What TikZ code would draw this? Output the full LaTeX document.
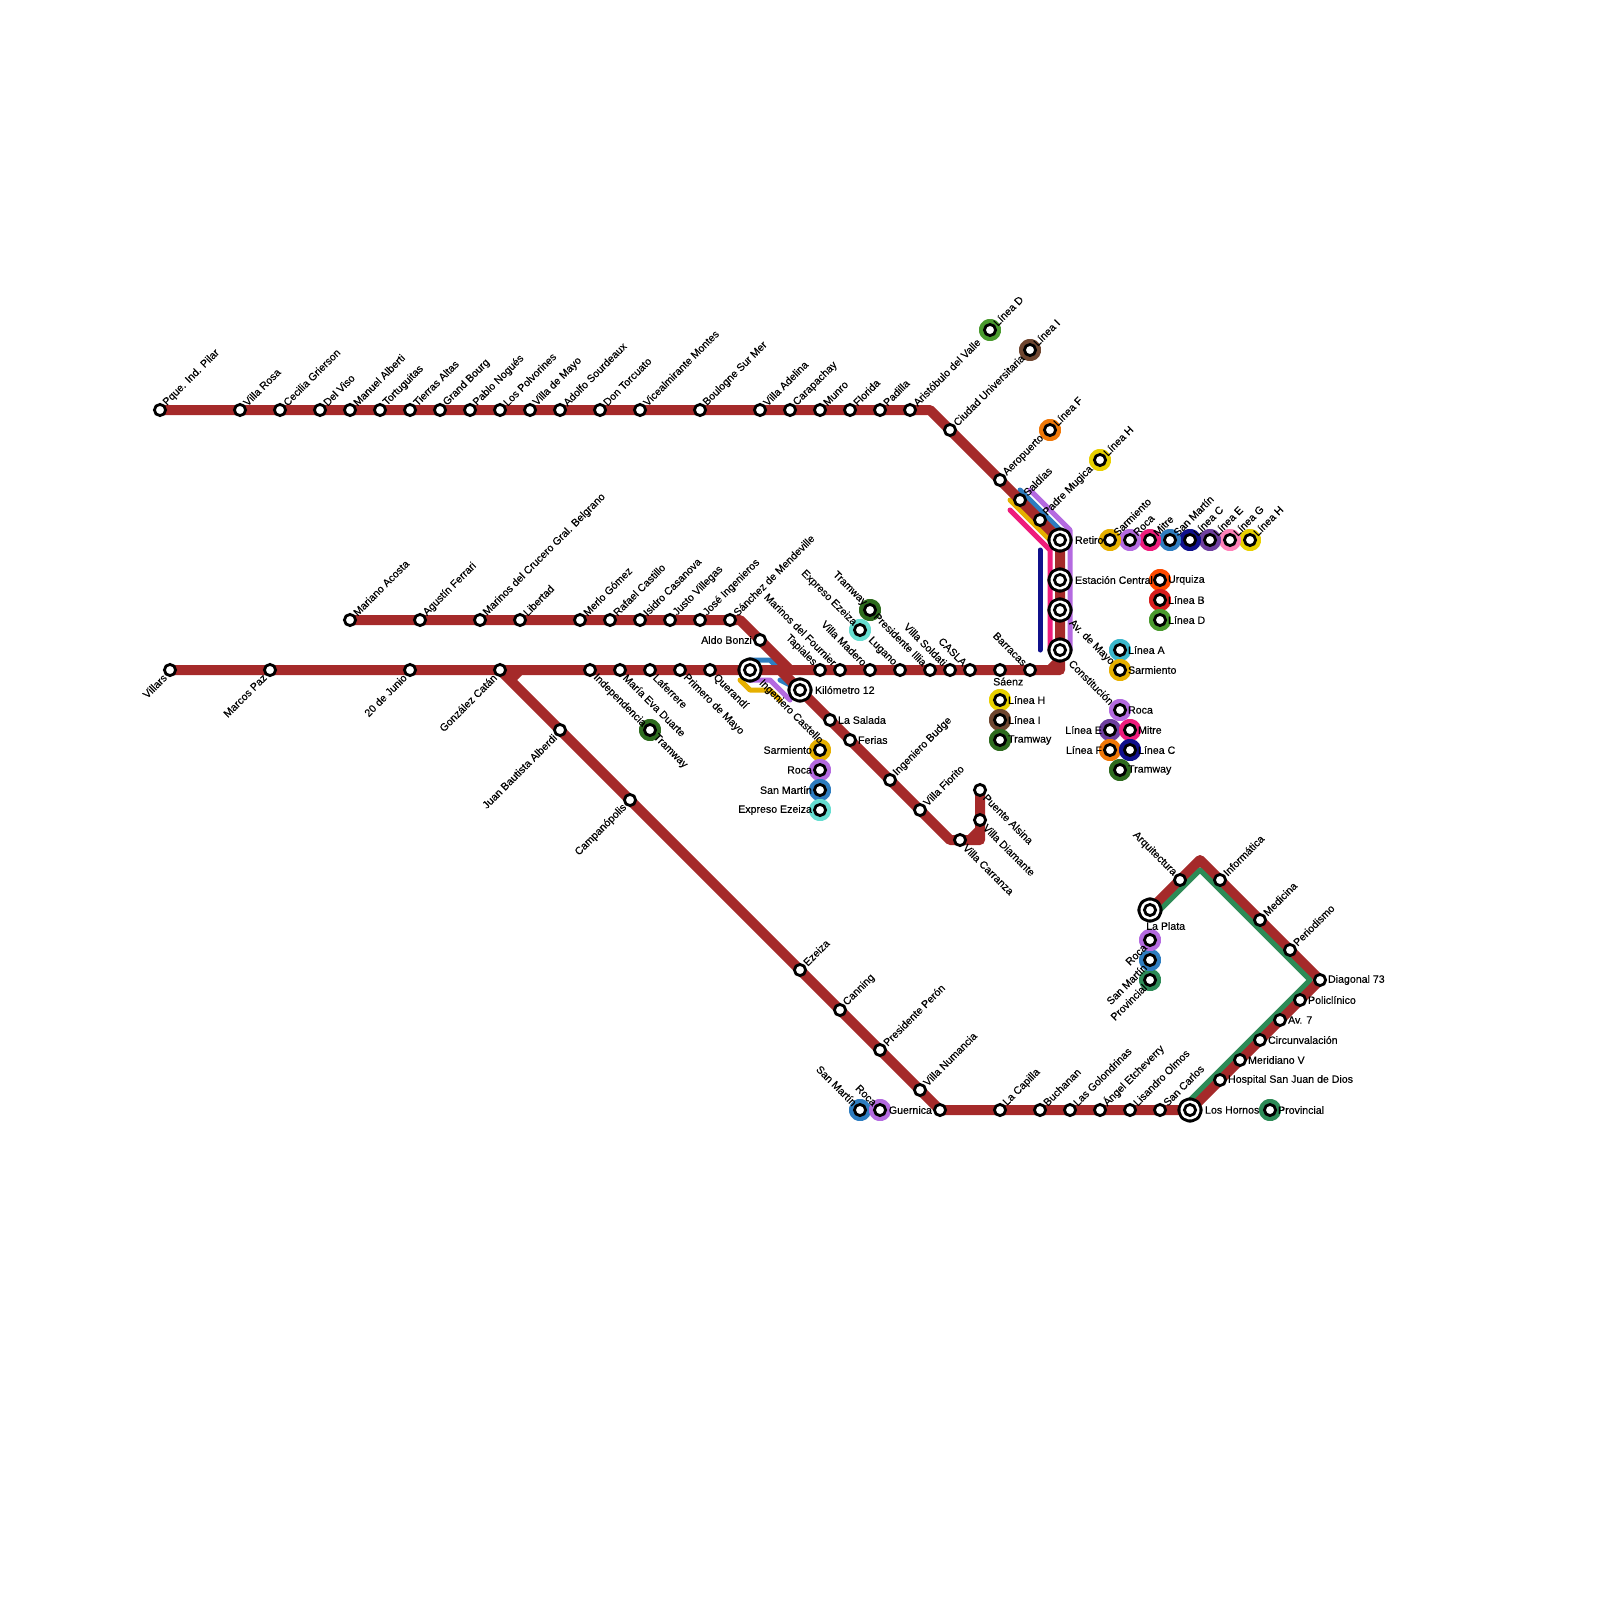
\documentclass[tikz,border=0pt]{standalone}
\usepackage{fontspec}
\setmainfont{Liberation Sans}[FakeBold=0.25]
\usetikzlibrary{backgrounds}
\definecolor{trunk}{HTML}{A52A2A}
\definecolor{provincial}{HTML}{2E8B57}
\definecolor{sarmiento}{HTML}{E6B000}
\definecolor{roca}{HTML}{B46AE0}
\definecolor{mitre}{HTML}{EE1C7C}
\definecolor{sanmartin}{HTML}{2E7DC0}
\definecolor{lineaa}{HTML}{3CB8CC}
\definecolor{lineab}{HTML}{D81E1E}
\definecolor{lineac}{HTML}{10108C}
\definecolor{linead}{HTML}{4A9A2E}
\definecolor{lineae}{HTML}{6F3FA0}
\definecolor{lineaf}{HTML}{F07808}
\definecolor{lineag}{HTML}{FF80B8}
\definecolor{lineah}{HTML}{E8D000}
\definecolor{lineai}{HTML}{6F4630}
\definecolor{urquiza}{HTML}{FF4A00}
\definecolor{tramway}{HTML}{2E6B1E}
\definecolor{ezeiza}{HTML}{66DDD0}

\begin{document}
\begin{tikzpicture}[
    x=1pt, y=-1pt, label distance=0.9pt,
    stn/.style={circle, draw=black, line width=2.8pt, fill=white, minimum size=11.2pt, inner sep=0pt},
    big/.style={stn, preaction={draw=black, line join=round, line width=14.2pt}, preaction={draw=white, line join=round, line width=8.2pt}},
    halo/.style={stn, preaction={draw=#1, line join=round, line width=11.6pt}},
    lab/.style={font=\fontsize{10.6}{12}\selectfont, inner sep=0pt},
    lne/.style={lab, rotate=45, anchor=west},
    lsw/.style={lab, rotate=45, anchor=east},
    lnw/.style={lab, rotate=-45, anchor=east},
    lse/.style={lab, rotate=-45, anchor=west},
    lea/.style={lab, anchor=west},
    lwe/.style={lab, anchor=east},
    lso/.style={lab, anchor=north west},
    leabig/.style={lea, xshift=7pt},
    lsebig/.style={lse, xshift=8pt},
    trunkline/.style={draw=trunk, line width=10pt, line join=round},
    branch/.style={draw=#1, line width=5pt, line join=round, line cap=round}
]
\useasboundingbox (0,0) rectangle (1600,1600);

\node[halo=linead, label={[lne,name=dnt]45:Línea D}] (dn) at (990,330) {};
\node[halo=lineai, label={[lne,name=int]45:Línea I}] (in) at (1030,350) {};
\node[halo=lineaf, label={[lne,name=fnt]45:Línea F}] (fn) at (1050,430) {};
\node[halo=lineah, label={[lne,name=hnt]45:Línea H}] (hn) at (1100,460) {};
\node[halo=lineah, label={[lne,name=rht]45:Línea H}] (rh) at (1250,540) {};
\node[halo=lineag, label={[lne,name=rgt]45:Línea G}] (rg) at (1230,540) {};
\node[halo=lineae, label={[lne,name=ret]45:Línea E}] (re) at (1210,540) {};
\node[halo=lineac, label={[lne,name=rct]45:Línea C}] (rc) at (1190,540) {};
\node[halo=sanmartin, label={[lne,name=rsanmt]45:San Martín}] (rsanm) at (1170,540) {};
\node[halo=mitre, label={[lne,name=rmitret]45:Mitre}] (rmitre) at (1150,540) {};
\node[halo=roca, label={[lne,name=rrocat]45:Roca}] (rroca) at (1130,540) {};
\node[halo=sarmiento, label={[lne,name=rsarmt]45:Sarmiento}] (rsarm) at (1110,540) {};
\node[halo=urquiza, label={[lea,name=curqt]0:Urquiza}] (curq) at (1160,580) {};
\node[halo=lineab, label={[lea,name=cbt]0:Línea B}] (cb) at (1160,600) {};
\node[halo=linead, label={[lea,name=cdt]0:Línea D}] (cd) at (1160,620) {};
\node[halo=lineaa, label={[lea,name=aat]0:Línea A}] (aa) at (1120,650) {};
\node[halo=sarmiento, label={[lea,name=asarmt]0:Sarmiento}] (asarm) at (1120,670) {};
\node[halo=roca, label={[lea,name=crocat]0:Roca}] (croca) at (1120,710) {};
\node[halo=lineae, label={[lwe,name=cet]180:Línea E}] (ce) at (1110,730) {};
\node[halo=mitre, label={[lea,name=cmitret]0:Mitre}] (cmitre) at (1130,730) {};
\node[halo=lineaf, label={[lwe,name=cft]180:Línea F}] (cf) at (1110,750) {};
\node[halo=lineac, label={[lea,name=cct]0:Línea C}] (cc) at (1130,750) {};
\node[halo=tramway, label={[lea,name=ctramt]0:Tramway}] (ctram) at (1120,770) {};
\node[halo=tramway, label={[lse,name=itramt]-45:Tramway}] (itram) at (650,730) {};
\node[halo=tramway, label={[lnw,name=ltramt]135:Tramway}] (ltram) at (870,610) {};
\node[halo=ezeiza, label={[lnw,name=lezet]135:Expreso Ezeiza}] (leze) at (860,630) {};
\node[halo=lineah, label={[lea,name=shat]0:Línea H}] (sha) at (1000,700) {};
\node[halo=lineai, label={[lea,name=sit]0:Línea I}] (si) at (1000,720) {};
\node[halo=tramway, label={[lea,name=stramt]0:Tramway}] (stram) at (1000,740) {};
\node[halo=sarmiento, label={[lwe,name=ksarmt]180:Sarmiento}] (ksarm) at (820,750) {};
\node[halo=roca, label={[lwe,name=krocat]180:Roca}] (kroca) at (820,770) {};
\node[halo=sanmartin, label={[lwe,name=ksanmt]180:San Martín}] (ksanm) at (820,790) {};
\node[halo=ezeiza, label={[lwe,name=kezet]180:Expreso Ezeiza}] (keze) at (820,810) {};
\node[halo=sanmartin, label={[lnw,name=gsanmt]135:San Martín}] (gsanm) at (860,1110) {};
\node[halo=roca, label={[lnw,name=grocat]135:Roca}] (groca) at (880,1110) {};
\node[halo=provincial, label={[lea,name=hprovt]0:Provincial}] (hprov) at (1270,1110) {};
\node[halo=provincial, label={[lsw,name=pprovt]-135:Provincial}] (pprov) at (1150,980) {};
\node[halo=sanmartin, label={[lsw,name=psanmt]-135:San Martín}] (psanm) at (1150,960) {};
\node[halo=roca, label={[lsw,name=procat]-135:Roca}] (proca) at (1150,940) {};

\node[stn, label={[lne,name=pilart]45:Pque. Ind. Pilar}] (pilar) at (160,410) {};
\node[stn, label={[lne,name=villarosat]45:Villa Rosa}] (villarosa) at (240,410) {};
\node[stn, label={[lne,name=griersont]45:Cecilia Grierson}] (grierson) at (280,410) {};
\node[stn, label={[lne,name=delvisot]45:Del Viso}] (delviso) at (320,410) {};
\node[stn, label={[lne,name=albertit]45:Manuel Alberti}] (alberti) at (350,410) {};
\node[stn, label={[lne,name=tortuguitast]45:Tortuguitas}] (tortuguitas) at (380,410) {};
\node[stn, label={[lne,name=tierrast]45:Tierras Altas}] (tierras) at (410,410) {};
\node[stn, label={[lne,name=bourgt]45:Grand Bourg}] (bourg) at (440,410) {};
\node[stn, label={[lne,name=noguest]45:Pablo Nogués}] (nogues) at (470,410) {};
\node[stn, label={[lne,name=polvorinest]45:Los Polvorines}] (polvorines) at (500,410) {};
\node[stn, label={[lne,name=villamayot]45:Villa de Mayo}] (villamayo) at (530,410) {};
\node[stn, label={[lne,name=sourdeauxt]45:Adolfo Sourdeaux}] (sourdeaux) at (560,410) {};
\node[stn, label={[lne,name=torcuatot]45:Don Torcuato}] (torcuato) at (600,410) {};
\node[stn, label={[lne,name=montest]45:Vicealmirante Montes}] (montes) at (640,410) {};
\node[stn, label={[lne,name=boulognet]45:Boulogne Sur Mer}] (boulogne) at (700,410) {};
\node[stn, label={[lne,name=adelinat]45:Villa Adelina}] (adelina) at (760,410) {};
\node[stn, label={[lne,name=carapachayt]45:Carapachay}] (carapachay) at (790,410) {};
\node[stn, label={[lne,name=munrot]45:Munro}] (munro) at (820,410) {};
\node[stn, label={[lne,name=floridat]45:Florida}] (florida) at (850,410) {};
\node[stn, label={[lne,name=padillat]45:Padilla}] (padilla) at (880,410) {};
\node[stn, label={[lne,name=aristobulot]45:Aristóbulo del Valle}] (aristobulo) at (910,410) {};
\node[stn, label={[lne,name=ciudadt]45:Ciudad Universitaria}] (ciudad) at (950,430) {};
\node[stn, label={[lne,name=aeropuertot]45:Aeropuerto}] (aeropuerto) at (1000,480) {};
\node[stn, label={[lne,name=saldiast]45:Saldías}] (saldias) at (1020,500) {};
\node[stn, label={[lne,name=mugicat]45:Padre Mugica}] (mugica) at (1040,520) {};

\node[big, label={[leabig,name=retirot]0:Retiro}] (retiro) at (1060,540) {};
\node[big, label={[leabig,name=centralt]0:Estación Central}] (central) at (1060,580) {};
\node[big, label={[lsebig,name=avmayot]-45:Av. de Mayo}] (avmayo) at (1060,610) {};
\node[big, label={[lsebig,name=constituciont]-45:Constitución}] (constitucion) at (1060,650) {};

\node[stn, label={[lne,name=acostat]45:Mariano Acosta}] (acosta) at (350,620) {};
\node[stn, label={[lne,name=ferrarit]45:Agustín Ferrari}] (ferrari) at (420,620) {};
\node[stn, label={[lne,name=belgranot]45:Marinos del Crucero Gral. Belgrano}] (belgrano) at (480,620) {};
\node[stn, label={[lne,name=libertadt]45:Libertad}] (libertad) at (520,620) {};
\node[stn, label={[lne,name=merlot]45:Merlo Gómez}] (merlo) at (580,620) {};
\node[stn, label={[lne,name=castillot]45:Rafael Castillo}] (castillo) at (610,620) {};
\node[stn, label={[lne,name=casanovat]45:Isidro Casanova}] (casanova) at (640,620) {};
\node[stn, label={[lne,name=villegast]45:Justo Villegas}] (villegas) at (670,620) {};
\node[stn, label={[lne,name=ingenierost]45:José Ingenieros}] (ingenieros) at (700,620) {};
\node[stn, label={[lne,name=sancheztt]45:Sánchez de Mendeville}] (sanchez) at (730,620) {};
\node[stn, label={[lwe,name=bonzit]180:Aldo Bonzi}] (bonzi) at (760,640) {};

\node[stn, label={[lsw,name=villarst]-135:Villars}] (villars) at (170,670) {};
\node[stn, label={[lsw,name=marcospazt]-135:Marcos Paz}] (marcospaz) at (270,670) {};
\node[stn, label={[lsw,name=veintet]-135:20 de Junio}] (veinte) at (410,670) {};
\node[stn, label={[lsw,name=catant]-135:González Catán}] (catan) at (500,670) {};
\node[stn, label={[lse,name=independenciat]-45:Independencia}] (independencia) at (590,670) {};
\node[stn, label={[lse,name=duartet]-45:María Eva Duarte}] (duarte) at (620,670) {};
\node[stn, label={[lse,name=laferreret]-45:Laferrere}] (laferrere) at (650,670) {};
\node[stn, label={[lse,name=primerot]-45:Primero de Mayo}] (primero) at (680,670) {};
\node[stn, label={[lse,name=querandit]-45:Querandí}] (querandi) at (710,670) {};
\node[stn, label={[lnw,name=tapialest]135:Tapiales}] (tapiales) at (820,670) {};
\node[stn, label={[lnw,name=fourniert]135:Marinos del Fournier}] (fournier) at (840,670) {};
\node[stn, label={[lnw,name=maderot]135:Villa Madero}] (madero) at (870,670) {};
\node[stn, label={[lnw,name=luganot]135:Lugano}] (lugano) at (900,670) {};
\node[stn, label={[lnw,name=illiat]135:Presidente Illia}] (illia) at (930,670) {};
\node[stn, label={[lnw,name=soldatit]135:Villa Soldati}] (soldati) at (950,670) {};
\node[stn, label={[lnw,name=caslat]135:CASLA}] (casla) at (970,670) {};
\node[stn, label={[lso,name=saenzt,xshift=-7pt,yshift=0.5pt]-90:Sáenz}] (saenz) at (1000,670) {};
\node[stn, label={[lnw,name=barracast]135:Barracas}] (barracas) at (1030,670) {};

\node[big, label={[leabig,name=kmdocet]0:Kilómetro 12}] (kmdoce) at (800,690) {};
\node[big, label={[lsebig,name=castellot]-45:Ingeniero Castello}] (castello) at (750,670) {};
\node[stn, label={[lea,name=saladat]0:La Salada}] (salada) at (830,720) {};
\node[stn, label={[lea,name=feriast]0:Ferias}] (ferias) at (850,740) {};
\node[stn, label={[lne,name=budget]45:Ingeniero Budge}] (budge) at (890,780) {};
\node[stn, label={[lne,name=fioritot]45:Villa Fiorito}] (fiorito) at (920,810) {};
\node[stn, label={[lse,name=carranzat]-45:Villa Carranza}] (carranza) at (960,840) {};
\node[stn, label={[lse,name=diamantet]-45:Villa Diamante}] (diamante) at (980,820) {};
\node[stn, label={[lse,name=alsinat]-45:Puente Alsina}] (alsina) at (980,790) {};

\node[stn, label={[lsw,name=alberdit]-135:Juan Bautista Alberdi}] (alberdi) at (560,730) {};
\node[stn, label={[lsw,name=campanopolist]-135:Campanópolis}] (campanopolis) at (630,800) {};
\node[stn, label={[lne,name=ezeizat]45:Ezeiza}] (ezeizast) at (800,970) {};
\node[stn, label={[lne,name=canningt]45:Canning}] (canning) at (840,1010) {};
\node[stn, label={[lne,name=peront]45:Presidente Perón}] (peron) at (880,1050) {};
\node[stn, label={[lne,name=numanciat]45:Villa Numancia}] (numancia) at (920,1090) {};
\node[stn, label={[lwe,name=guernicat]180:Guernica}] (guernica) at (940,1110) {};
\node[stn, label={[lne,name=capillat]45:La Capilla}] (capilla) at (1000,1110) {};
\node[stn, label={[lne,name=buchanant]45:Buchanan}] (buchanan) at (1040,1110) {};
\node[stn, label={[lne,name=golondrinast]45:Las Golondrinas}] (golondrinas) at (1070,1110) {};
\node[stn, label={[lne,name=etcheverryt]45:Ángel Etcheverry}] (etcheverry) at (1100,1110) {};
\node[stn, label={[lne,name=olmost]45:Lisandro Olmos}] (olmos) at (1130,1110) {};
\node[stn, label={[lne,name=carlost]45:San Carlos}] (carlos) at (1160,1110) {};
\node[big, label={[leabig,name=hornost]0:Los Hornos}] (hornos) at (1190,1110) {};

\node[stn, label={[lea,name=hospitalt]0:Hospital San Juan de Dios}] (hospital) at (1220,1080) {};
\node[stn, label={[lea,name=meridianot]0:Meridiano V}] (meridiano) at (1240,1060) {};
\node[stn, label={[lea,name=circunvt]0:Circunvalación}] (circunv) at (1260,1040) {};
\node[stn, label={[lea,name=avsietet]0:Av. 7}] (avsiete) at (1280,1020) {};
\node[stn, label={[lea,name=policlinicot]0:Policlínico}] (policlinico) at (1300,1000) {};
\node[stn, label={[lea,name=diagonalt]0:Diagonal 73}] (diagonal) at (1320,980) {};
\node[stn, label={[lne,name=periodismot]45:Periodismo}] (periodismo) at (1290,950) {};
\node[stn, label={[lne,name=medicinat]45:Medicina}] (medicina) at (1260,920) {};
\node[stn, label={[lne,name=informaticat]45:Informática}] (informatica) at (1220,880) {};
\node[stn, label={[lnw,name=arquitecturat]135:Arquitectura}] (arquitectura) at (1180,880) {};
\node[big, label={[lso,name=laplatat,xshift=-4pt,yshift=-4pt]-90:La Plata}] (laplata) at (1150,910) {};

\coordinate (nwbend) at (930,410);
\coordinate (sebend) at (1060,670);
\coordinate (sejoin) at (1050,670);
\coordinate (seup) at (1060,660);
\coordinate (bonzibend) at (740,620);
\coordinate (bonziend) at (790,670);
\coordinate (kmstart) at (780,670);
\coordinate (carrbend) at (950,840);
\coordinate (carrcorner) at (980,840);
\coordinate (carrjoin) at (970,840);
\coordinate (carrup) at (980,830);
\coordinate (catanjoin) at (510,680);
\coordinate (catanend) at (520,670);
\coordinate (apex) at (1200,860);
\coordinate (provapex) at (1200,870);
\coordinate (provright) at (1310,980);
\coordinate (provlow) at (1190,1100);
\coordinate (provleft) at (1155,915);
\coordinate (sanm1) at (1020,490);
\coordinate (sanm2) at (1060,530);
\coordinate (roca1) at (1030,490);
\coordinate (roca2) at (1070,530);
\coordinate (roca3) at (1070,650);
\coordinate (sarm1) at (1010,500);
\coordinate (sarm2) at (1050,540);
\coordinate (mitre1) at (1010,510);
\coordinate (mitre2) at (1050,550);
\coordinate (mitre3) at (1050,650);
\coordinate (linc1) at (1040,550);
\coordinate (linc2) at (1040,650);
\coordinate (wsanm1) at (750,660);
\coordinate (wsanm2) at (770,660);
\coordinate (wsanm3) at (780,670);
\coordinate (wsanm4) at (780,680);
\coordinate (wroca1) at (750,680);
\coordinate (wroca2) at (770,680);
\coordinate (wroca3) at (790,700);
\coordinate (wsarm1) at (740,680);
\coordinate (wsarm2) at (750,690);
\coordinate (wsarm3) at (770,690);
\coordinate (wsarm4) at (780,700);

\begin{scope}[on background layer]
\draw[branch=roca] (roca1) -- (roca2) -- (roca3);
\draw[branch=sanmartin] (sanm1) -- (sanm2);
\draw[branch=sarmiento] (sarm1) -- (sarm2);
\draw[branch=mitre] (mitre1) -- (mitre2) -- (mitre3);
\draw[branch=lineac] (linc1) -- (linc2);
\draw[branch=sanmartin] (wsanm1) -- (wsanm2) -- (wsanm3);
\draw[branch=sanmartin] (wsanm4) -- (kmdoce.center);
\draw[branch=sarmiento] (wsarm1) -- (wsarm2) -- (wsarm3) -- (wsarm4);
\draw[branch=roca] (wroca1) -- (wroca2) -- (wroca3);
\draw[trunkline] (pilar.center) -- (nwbend) -- (retiro.center) -- (constitucion.center) -- (sebend) -- (villars.center);
\draw[trunkline] (sejoin) -- (seup);
\draw[trunkline] (acosta.center) -- (bonzibend) -- (bonziend);
\draw[trunkline] (kmstart) -- (carrbend) -- (carrcorner) -- (alsina.center);
\draw[trunkline] (carrjoin) -- (carrup);
\draw[trunkline] (catan.center) -- (guernica.center) -- (hornos.center) -- (diagonal.center) -- (apex) -- (laplata.center);
\draw[trunkline] (catanend) -- (catanjoin);
\draw[branch=provincial, line cap=butt] (provlow) -- (provright) -- (provapex) -- (provleft);
\end{scope}
\end{tikzpicture}
\end{document}
